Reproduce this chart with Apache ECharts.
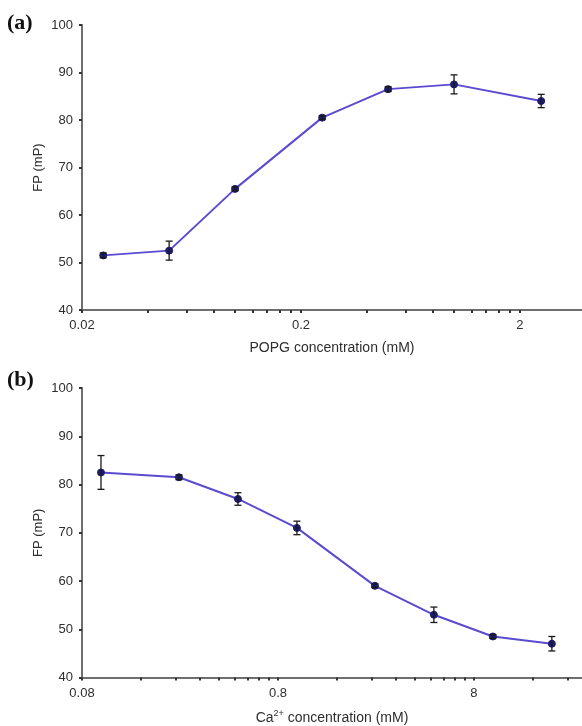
<!DOCTYPE html>
<html>
<head>
<meta charset="utf-8">
<style>
  html, body { margin: 0; padding: 0; background: #fff; }
  #chart { width: 582px; height: 726px; }
</style>
<script src="https://cdn.jsdelivr.net/npm/echarts@6/dist/echarts.min.js"></script>
</head>
<body>
<div id="chart"></div>
<script>
// Panel (a): FP vs POPG concentration
const popgConc = [0.025, 0.05, 0.1, 0.25, 0.5, 1, 2.5];
const popgFP   = [51.5, 52.5, 65.5, 80.5, 86.5, 87.5, 84];
const popgErr  = [0.5, 2.0, 0.4, 0.4, 0.5, 2.0, 1.4];
const popgTickLabels = [0.02, 0.2, 2];

// Panel (b): FP vs Ca2+ concentration
const caConc = [0.1, 0.25, 0.5, 1, 2.5, 5, 10, 20];
const caFP   = [82.5, 81.5, 77, 71, 59, 53, 48.5, 47];
const caErr  = [3.5, 0.5, 1.3, 1.4, 0.4, 1.6, 0.4, 1.5];
const caTickLabels = [0.08, 0.8, 8];

const fpTicks = [40, 50, 60, 70, 80, 90, 100];

// tick positions on a log axis: 1..9 multiples of each decade start
function decadeTicks(start, decades) {
  const out = [];
  for (let d = 0; d < decades; d++) {
    const base = start * Math.pow(10, d);
    for (let m = 1; m <= 9; m++) out.push(+(base * m).toPrecision(4));
  }
  out.push(+(start * Math.pow(10, decades)).toPrecision(4));
  return out;
}

const AXIS_GRAY = '#6e6e6e';
const TEXT = '#2e2e2e';
const LINE = '#5a4bd0';
const DOT = '#1d1b6b';
const FONT = 'Liberation Sans, Arial, sans-serif';

function xAxisCfg(gridIndex, min, max, labels, ticks, name, gap) {
  return {
    type: 'log', logBase: 10, gridIndex, min, max,
    name, nameLocation: 'middle', nameGap: gap, nameMoveOverlap: false,
    nameTextStyle: { color: TEXT, fontSize: 14, fontFamily: FONT },
    axisLine: { lineStyle: { color: AXIS_GRAY, width: 2 } },
    axisTick: { show: true, customValues: ticks, length: 3, lineStyle: { color: '#333', width: 2 } },
    axisLabel: {
      customValues: labels, color: TEXT, fontSize: 13, fontFamily: FONT, margin: 9,
      formatter: v => String(+(+v).toPrecision(3))
    },
    minorTick: { show: false },
    splitLine: { show: false }
  };
}

function yAxisCfg(gridIndex) {
  return {
    type: 'value', gridIndex, min: 40, max: 100, interval: 10,
    name: 'FP (mP)', nameLocation: 'middle', nameGap: 37, nameMoveOverlap: false,
    nameTextStyle: { color: TEXT, fontSize: 13, fontFamily: FONT },
    axisLine: { show: true, lineStyle: { color: AXIS_GRAY, width: 2 } },
    axisTick: { show: true, length: 3, lineStyle: { color: '#333', width: 2 } },
    axisLabel: { color: TEXT, fontSize: 13, fontFamily: FONT, margin: 9,
      formatter: v => fpTicks.includes(v) ? String(v) : '' },
    splitLine: { show: false }
  };
}

function errorSeries(xi, yi, xs, ys, es) {
  return {
    type: 'custom', xAxisIndex: xi, yAxisIndex: yi, z: 5,
    data: xs.map((x, i) => [x, ys[i], es[i]]),
    encode: { x: 0, y: 1 },
    renderItem(params, api) {
      const x = api.value(0), y = api.value(1), e = api.value(2);
      const hi = api.coord([x, y + e]);
      const lo = api.coord([x, y - e]);
      const w = 3.5;
      const style = { stroke: '#1a1a1a', lineWidth: 1.3 };
      return {
        type: 'group',
        children: [
          { type: 'line', shape: { x1: hi[0], y1: hi[1], x2: lo[0], y2: lo[1] }, style },
          { type: 'line', shape: { x1: hi[0] - w, y1: hi[1], x2: hi[0] + w, y2: hi[1] }, style },
          { type: 'line', shape: { x1: lo[0] - w, y1: lo[1], x2: lo[0] + w, y2: lo[1] }, style }
        ]
      };
    }
  };
}

function lineSeries(xi, yi, xs, ys) {
  return {
    type: 'line', xAxisIndex: xi, yAxisIndex: yi, z: 3,
    data: xs.map((x, i) => [x, ys[i]]),
    symbol: 'circle', symbolSize: 7,
    lineStyle: { color: LINE, width: 2 },
    itemStyle: { color: DOT, borderColor: DOT },
    emphasis: { disabled: true },
    animation: false
  };
}

const chart = echarts.init(document.getElementById('chart'), null, { renderer: 'canvas' });

const xA = xAxisCfg(0, 0.02, 3.84, popgTickLabels, decadeTicks(0.02, 2), 'POPG concentration (mM)', 31);
const xB = xAxisCfg(1, 0.08, 28.5, caTickLabels, decadeTicks(0.08, 2).concat([16, 24]), 'Ca{sup|2+} concentration (mM)', 32);
xB.nameTextStyle = {
  color: TEXT, fontSize: 14, fontFamily: FONT,
  rich: { sup: { fontSize: 9, color: TEXT, fontFamily: FONT, padding: [0, 0, 8, 0] } }
};

chart.setOption({
  animation: false,
  backgroundColor: '#fff',
  textStyle: { fontFamily: FONT },
  grid: [
    { left: 82, right: 0, top: 25, height: 285 },
    { left: 82, right: 0, top: 388, height: 290 }
  ],
  xAxis: [xA, xB],
  yAxis: [yAxisCfg(0), yAxisCfg(1)],
  graphic: [
    { type: 'text', left: 7, top: 12, style: { text: '(a)', font: 'bold 22px "Liberation Serif", "Times New Roman", serif', fill: '#111' } },
    { type: 'text', left: 7, top: 369, style: { text: '(b)', font: 'bold 22px "Liberation Serif", "Times New Roman", serif', fill: '#111' } }
  ],
  series: [
    lineSeries(0, 0, popgConc, popgFP),
    errorSeries(0, 0, popgConc, popgFP, popgErr),
    lineSeries(1, 1, caConc, caFP),
    errorSeries(1, 1, caConc, caFP, caErr)
  ]
});
</script>
</body>
</html>
